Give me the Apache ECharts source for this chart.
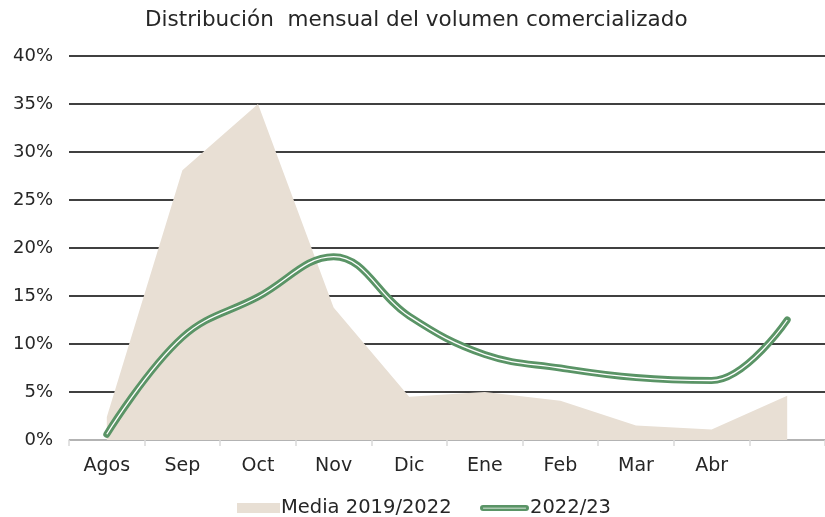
<!DOCTYPE html>
<html>
<head>
<meta charset="utf-8">
<script src="https://cdn.jsdelivr.net/npm/echarts@6/dist/echarts.min.js"></script>
<style>
html,body{margin:0;padding:0;background:#fff;}
#c{width:825px;height:517px;}
</style>
</head>
<body>
<div id="c"></div>
<script>
var categories = ['Agos','Sep','Oct','Nov','Dic','Ene','Feb','Mar','Abr',''];
var media = [2.4, 28.1, 35.0, 13.8, 4.5, 5.0, 4.1, 1.5, 1.1, 4.6];
var temporada = [0.6, 10.7, 14.9, 19.1, 12.9, 8.9, 7.5, 6.5, 6.2, 12.5];
var yTicks = [0, 5, 10, 15, 20, 25, 30, 35, 40];

var FONT = 'DejaVu Sans';
var chart = echarts.init(document.getElementById('c'), null, {renderer:'canvas'});
var lineIcon = 'path://M3,0 L45,0 A3,3 0 0 1 45,6 L3,6 A3,3 0 0 1 3,0 Z M3,2.7 L3,3.5 L45,3.5 L45,2.7 Z';
chart.setOption({
  animation: false,
  title: {
    text: 'Distribución  mensual del volumen comercializado',
    left: 145, top: 9, padding: 0,
    textStyle: {fontFamily: FONT, fontSize: 21.5, fontWeight: 'normal', color: '#262626'}
  },
  legend: [{
    data: [{name: 'Media 2019/2022', icon: 'rect'}],
    left: 237, top: 498, padding: 0, itemWidth: 43, itemHeight: 10, itemGap: 4,
    textStyle: {fontFamily: FONT, fontSize: 19.5, color: '#262626', padding: [0,0,0,-4]}
  },{
    data: [{name: '2022/23', icon: lineIcon}],
    left: 480, top: 498, padding: 0, itemWidth: 49, itemHeight: 7,
    textStyle: {fontFamily: FONT, fontSize: 19.5, color: '#262626', padding: [0,0,0,-4]}
  }],
  grid: {left: 69, top: 56, right: -5, bottom: 77, containLabel: false},
  xAxis: {
    type: 'category', data: categories, boundaryGap: true,
    axisLine: {lineStyle: {color: '#d9d9d9', width: 1.5}},
    axisTick: {show: true, length: 6, lineStyle: {color: '#d9d9d9', width: 1.5}},
    axisLabel: {fontFamily: FONT, fontSize: 19, color: '#262626', margin: 17}
  },
  yAxis: {
    type: 'value', min: 0, max: 40, interval: 5,
    axisLine: {show: false}, axisTick: {show: false},
    splitLine: {lineStyle: {color: '#404040', width: 1.8}},
    axisLabel: {fontFamily: FONT, fontSize: 18, color: '#262626', margin: 16,
      formatter: function(v){ return yTicks.indexOf(v) >= 0 ? v + '%' : ''; }}
  },
  series: [{
    name: 'Media 2019/2022', type: 'line', data: media,
    symbol: 'none', smooth: false,
    lineStyle: {width: 0},
    areaStyle: {color: '#e8dfd4', opacity: 1},
    itemStyle: {color: '#e8dfd4'},
    z: 1
  },{
    name: '2022/23', type: 'line', data: temporada,
    symbol: 'none', smooth: 0.4,
    lineStyle: {width: 7, color: '#5a9466', cap: 'round', join: 'round'},
    itemStyle: {color: '#5a9466'},
    z: 3
  },{
    name: 'inner', type: 'line', data: temporada,
    symbol: 'none', smooth: 0.4,
    lineStyle: {width: 1.3, color: '#ffffff', cap: 'butt'},
    silent: true, z: 4
  }]
});
</script>
</body>
</html>
